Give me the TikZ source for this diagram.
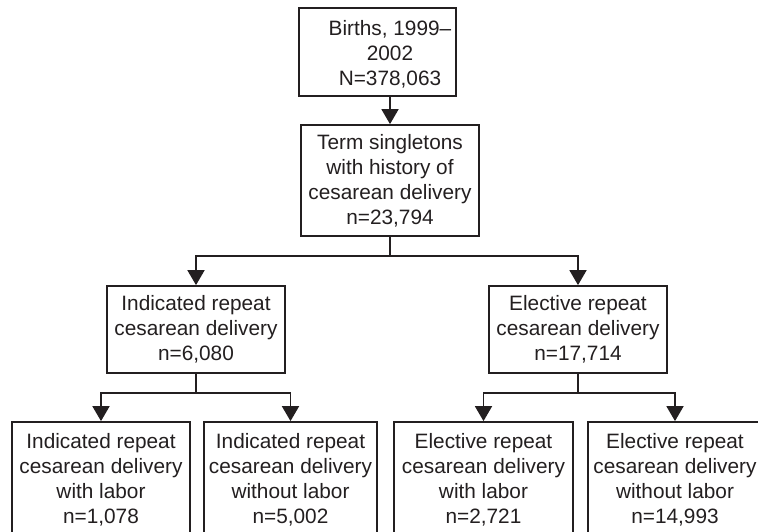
\documentclass[tikz,border=0pt]{standalone}
\usepackage{fontspec}
\setmainfont{Liberation Sans}
\usetikzlibrary{arrows.meta}
\definecolor{ink}{HTML}{231F20}
\begin{document}
\begin{tikzpicture}[x=1pt,y=-1pt,
  boxnode/.style={draw=ink, line width=1.8pt, align=center, inner sep=0pt,
    text=ink, font=\fontsize{20.8}{25}\selectfont},
  txtnode/.style={align=center, inner sep=0pt, text=ink,
    font=\fontsize{20.8}{25}\selectfont},
  conn/.style={draw=ink, line width=1.8pt, -{Triangle[width=17pt,length=15pt]}},
  plain/.style={draw=ink, line width=1.8pt}]
\useasboundingbox (0,0) rectangle (758,531);
\clip (0,0) rectangle (758,531);
\fill[white] (0,0) rectangle (758,531);

\node[boxnode, minimum width=157pt, minimum height=88pt] (top) at (377.5,52) {};
\node[txtnode] (toptext) at (390,54) {Births, 1999\textendash\\2002\\N=378,063};

\node[boxnode, minimum width=178pt, minimum height=111pt] (mid) at (390,180.5)
  {Term singletons\\with history of\\cesarean delivery\\n=23,794};

\node[boxnode, minimum width=178pt, minimum height=87pt] (ind) at (196,329.5)
  {Indicated repeat\\cesarean delivery\\n=6,080};
\node[boxnode, minimum width=178pt, minimum height=87pt] (ele) at (578,329.5)
  {Elective repeat\\cesarean delivery\\n=17,714};

\node[boxnode, minimum width=178pt, minimum height=116pt] (a) at (101,480)
  {Indicated repeat\\cesarean delivery\\with labor\\n=1,078};
\node[boxnode, minimum width=173pt, minimum height=116pt] (b) at (290.5,480)
  {Indicated repeat\\cesarean delivery\\without labor\\n=5,002};
\node[boxnode, minimum width=179pt, minimum height=116pt] (c) at (483.5,480)
  {Elective repeat\\cesarean delivery\\with labor\\n=2,721};
\node[boxnode, minimum width=174pt, minimum height=116pt] (d) at (675,480)
  {Elective repeat\\cesarean delivery\\without labor\\n=14,993};

\draw[conn] (top.south -| mid.north) -- (mid.north);

\coordinate (j1) at (390,256);
\draw[plain] (mid.south) -- (j1);
\draw[conn] (j1) -| (ind.north);
\draw[conn] (j1) -| (ele.north);

\coordinate (j2) at (196,393);
\draw[plain] (ind.south) -- (j2);
\draw[conn] (j2) -| (a.north);
\draw[conn] (j2) -| (b.north);

\coordinate (j3) at (578,393);
\draw[plain] (ele.south) -- (j3);
\draw[conn] (j3) -| (c.north);
\draw[conn] (j3) -| (d.north);
\end{tikzpicture}
\end{document}
